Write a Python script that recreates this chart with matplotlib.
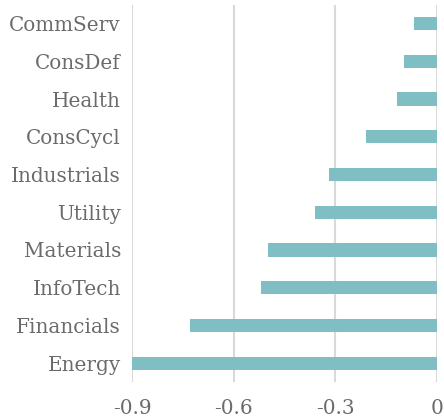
import matplotlib
matplotlib.use("Agg")
import matplotlib.pyplot as plt

categories = ["Energy", "Financials", "InfoTech", "Materials", "Utility",
              "Industrials", "ConsCycl", "Health", "ConsDef", "CommServ"]
values = [-0.90, -0.728, -0.519, -0.498, -0.359, -0.318, -0.209, -0.118, -0.0975, -0.067]
xticks = [-0.9, -0.6, -0.3, 0]
xticklabels = ["-0.9", "-0.6", "-0.3", "0"]

plt.rcParams['font.family'] = ['DejaVu Serif']

fig = plt.figure(figsize=(4.44, 4.18), dpi=100)
ax = fig.add_axes([0.2973, 0.0861, 0.6862, 0.9027])

ax.barh(range(len(categories)), values, height=0.35, color="#7FBFC4", zorder=2)
ax.set_xlim(-0.9, 0)
ax.set_ylim(-0.5, 9.5)
ax.set_xticks(xticks)
ax.set_xticklabels(xticklabels)
ax.set_yticks(range(len(categories)))
ax.set_yticklabels(categories)
ax.grid(axis="x", color="#d9d9d9", linewidth=1.5, zorder=1)
ax.grid(axis="y", visible=False)
for s in ax.spines.values():
    s.set_visible(False)
ax.tick_params(axis="both", length=0, colors="#6b6b6b", labelsize=14.4)
ax.tick_params(axis="y", pad=8)
ax.tick_params(axis="x", pad=12)

fig.savefig("out.png", dpi=100)
